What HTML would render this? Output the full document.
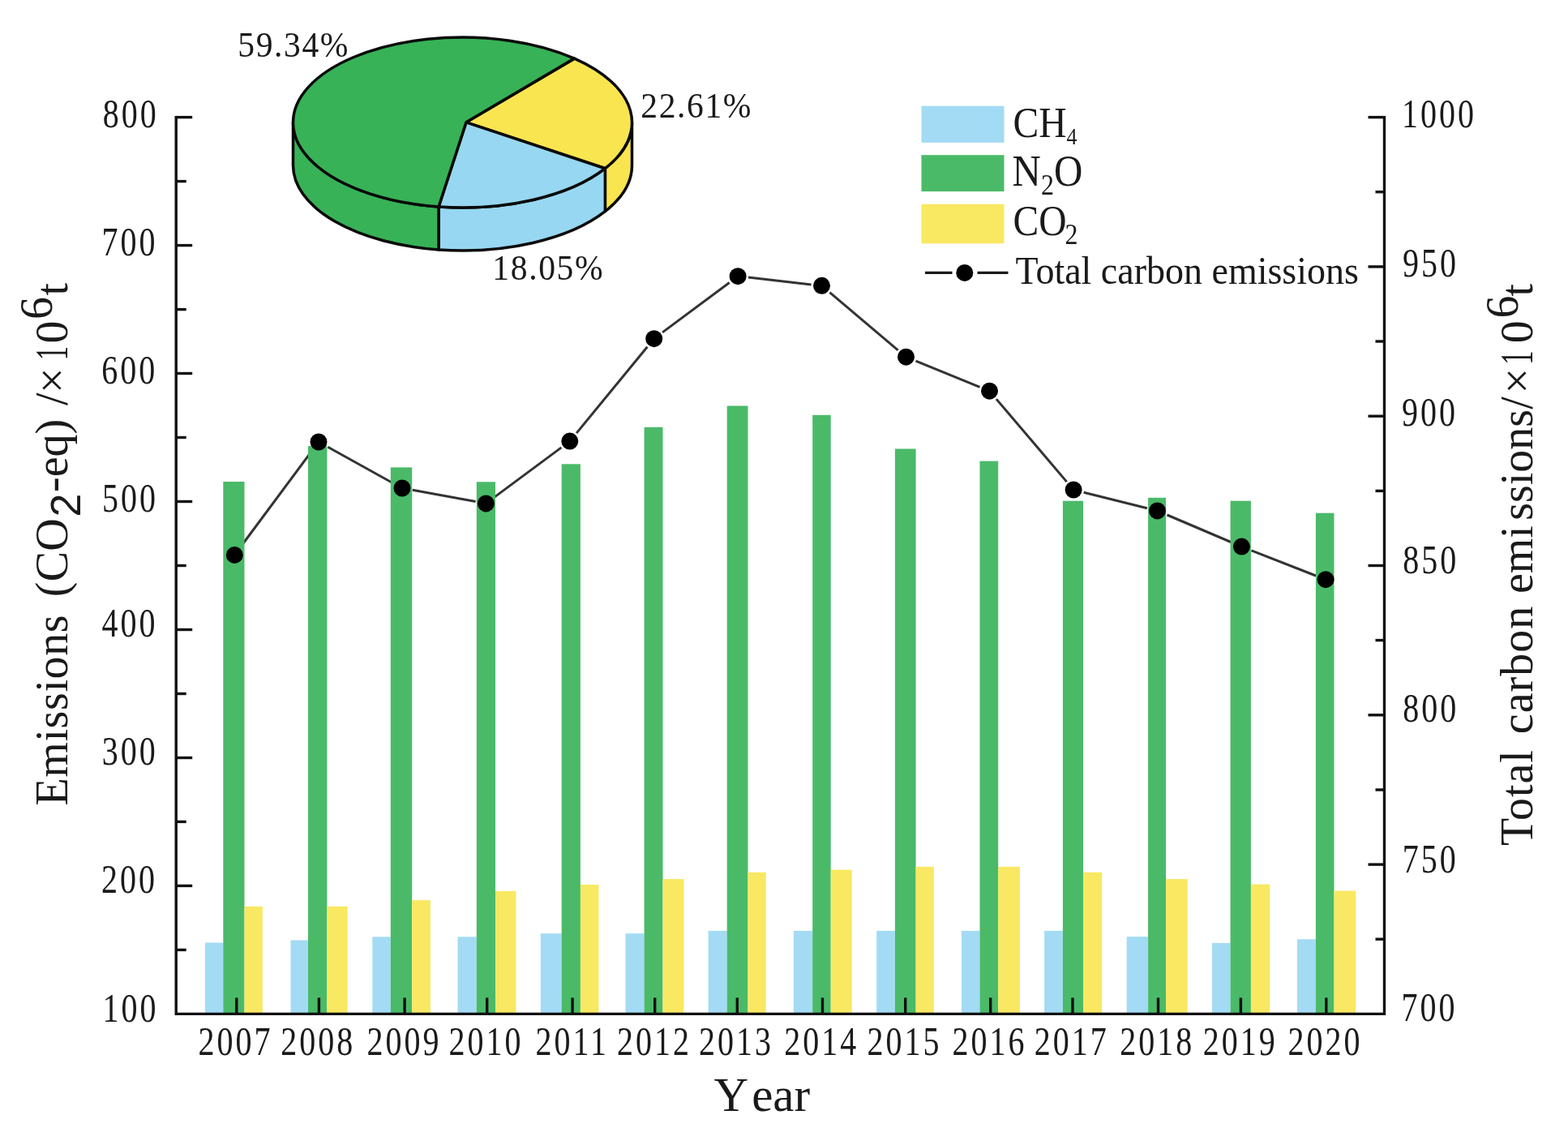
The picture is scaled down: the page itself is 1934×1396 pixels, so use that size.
<!DOCTYPE html><html><head><meta charset="utf-8"><title>Emissions chart</title><style>html,body{margin:0;padding:0;background:#fff;}svg{display:block;}</style></head><body>
<svg width="1934" height="1396" viewBox="0 0 1934 1396">
<rect width="1934" height="1396" fill="#fff"/>
<line x1="297.1" y1="674.0" x2="385.2" y2="555.4" stroke="#333333" stroke-width="3"/>
<line x1="404.4" y1="551.3" x2="484.6" y2="595.7" stroke="#333333" stroke-width="3"/>
<line x1="508.8" y1="604.3" x2="586.6" y2="618.6" stroke="#333333" stroke-width="3"/>
<line x1="609.8" y1="613.1" x2="692.4" y2="551.9" stroke="#333333" stroke-width="3"/>
<line x1="711.1" y1="534.1" x2="798.4" y2="427.7" stroke="#333333" stroke-width="3"/>
<line x1="817.1" y1="409.9" x2="899.7" y2="348.5" stroke="#333333" stroke-width="3"/>
<line x1="923.0" y1="342.1" x2="1000.6" y2="350.9" stroke="#333333" stroke-width="3"/>
<line x1="1023.4" y1="360.7" x2="1107.6" y2="431.8" stroke="#333333" stroke-width="3"/>
<line x1="1129.5" y1="445.1" x2="1208.5" y2="477.3" stroke="#333333" stroke-width="3"/>
<line x1="1228.9" y1="492.1" x2="1315.7" y2="594.1" stroke="#333333" stroke-width="3"/>
<line x1="1336.7" y1="607.2" x2="1414.9" y2="626.7" stroke="#333333" stroke-width="3"/>
<line x1="1439.5" y1="635.0" x2="1519.4" y2="669.0" stroke="#333333" stroke-width="3"/>
<line x1="1543.5" y1="678.8" x2="1623.0" y2="710.0" stroke="#333333" stroke-width="3"/>
<rect x="253" y="1162.5" width="22.3" height="87.9" fill="#A3DBF4"/>
<rect x="275.3" y="594" width="26.2" height="656.4" fill="#4ABA68"/>
<rect x="301.5" y="1117.8" width="22.3" height="132.6" fill="#F9E862"/>
<rect x="358.5" y="1159.5" width="21.5" height="90.9" fill="#A3DBF4"/>
<rect x="380" y="550" width="23.4" height="700.4" fill="#4ABA68"/>
<rect x="403.4" y="1117.8" width="25.2" height="132.6" fill="#F9E862"/>
<rect x="459.3" y="1155.3" width="22.5" height="95.1" fill="#A3DBF4"/>
<rect x="481.8" y="576.4" width="26.4" height="674.0" fill="#4ABA68"/>
<rect x="508.2" y="1110.2" width="22.7" height="140.2" fill="#F9E862"/>
<rect x="564.5" y="1155.3" width="23.3" height="95.1" fill="#A3DBF4"/>
<rect x="587.8" y="594.3" width="23.2" height="656.1" fill="#4ABA68"/>
<rect x="611" y="1098.9" width="25.4" height="151.5" fill="#F9E862"/>
<rect x="666.8" y="1151.2" width="25.9" height="99.2" fill="#A3DBF4"/>
<rect x="692.7" y="572.3" width="23.2" height="678.1" fill="#4ABA68"/>
<rect x="715.9" y="1091" width="22.5" height="159.4" fill="#F9E862"/>
<rect x="771.5" y="1151.2" width="23.1" height="99.2" fill="#A3DBF4"/>
<rect x="794.6" y="526.8" width="22.9" height="723.6" fill="#4ABA68"/>
<rect x="817.5" y="1084.1" width="25.9" height="166.3" fill="#F9E862"/>
<rect x="873.6" y="1147.9" width="23.1" height="102.5" fill="#A3DBF4"/>
<rect x="896.7" y="500.5" width="25.8" height="749.9" fill="#4ABA68"/>
<rect x="922.5" y="1075.8" width="22.2" height="174.6" fill="#F9E862"/>
<rect x="978.9" y="1147.9" width="23.3" height="102.5" fill="#A3DBF4"/>
<rect x="1002.2" y="511.8" width="22.5" height="738.6" fill="#4ABA68"/>
<rect x="1024.7" y="1072.6" width="26.0" height="177.8" fill="#F9E862"/>
<rect x="1081.2" y="1147.9" width="22.7" height="102.5" fill="#A3DBF4"/>
<rect x="1103.9" y="553.5" width="25.7" height="696.9" fill="#4ABA68"/>
<rect x="1129.6" y="1068.9" width="22.3" height="181.5" fill="#F9E862"/>
<rect x="1186" y="1147.9" width="22.5" height="102.5" fill="#A3DBF4"/>
<rect x="1208.5" y="568.6" width="22.7" height="681.8" fill="#4ABA68"/>
<rect x="1231.2" y="1068.9" width="26.7" height="181.5" fill="#F9E862"/>
<rect x="1288.1" y="1147.9" width="22.8" height="102.5" fill="#A3DBF4"/>
<rect x="1310.9" y="617.7" width="25.1" height="632.7" fill="#4ABA68"/>
<rect x="1336" y="1075.8" width="23.2" height="174.6" fill="#F9E862"/>
<rect x="1389.7" y="1155.1" width="26.4" height="95.3" fill="#A3DBF4"/>
<rect x="1416.1" y="613.8" width="21.9" height="636.6" fill="#4ABA68"/>
<rect x="1438" y="1084.1" width="26.7" height="166.3" fill="#F9E862"/>
<rect x="1495" y="1162.9" width="22.6" height="87.5" fill="#A3DBF4"/>
<rect x="1517.6" y="617.7" width="25.3" height="632.7" fill="#4ABA68"/>
<rect x="1542.9" y="1090.6" width="23.3" height="159.8" fill="#F9E862"/>
<rect x="1600" y="1158.3" width="22.9" height="92.1" fill="#A3DBF4"/>
<rect x="1622.9" y="632.7" width="22.6" height="617.7" fill="#4ABA68"/>
<rect x="1645.5" y="1098.6" width="26.7" height="151.8" fill="#F9E862"/>
<g stroke="#111" stroke-width="3.4" fill="none">
<path d="M217.2 142.9V1250.4H1707.5V142.9"/>
<path d="M217.2 1171.4h12.5"/>
<path d="M217.2 1092.4h20"/>
<path d="M217.2 1013.4h12.5"/>
<path d="M217.2 934.5h20"/>
<path d="M217.2 855.5h12.5"/>
<path d="M217.2 776.5h20"/>
<path d="M217.2 697.5h12.5"/>
<path d="M217.2 618.5h20"/>
<path d="M217.2 539.5h12.5"/>
<path d="M217.2 460.5h20"/>
<path d="M217.2 381.6h12.5"/>
<path d="M217.2 302.6h20"/>
<path d="M217.2 223.6h12.5"/>
<path d="M217.2 144.6h20"/>
<path d="M1707.5 1158.2h-11"/>
<path d="M1707.5 1066.1h-20"/>
<path d="M1707.5 974.0h-11"/>
<path d="M1707.5 881.8h-20"/>
<path d="M1707.5 789.6h-11"/>
<path d="M1707.5 697.5h-20"/>
<path d="M1707.5 605.4h-11"/>
<path d="M1707.5 513.2h-20"/>
<path d="M1707.5 421.0h-11"/>
<path d="M1707.5 328.9h-20"/>
<path d="M1707.5 236.7h-11"/>
<path d="M1707.5 144.6h-20"/>
<path d="M291.8 1250.4v-20"/>
<path d="M393.4 1250.4v-20"/>
<path d="M499.1 1250.4v-20"/>
<path d="M600.7 1250.4v-20"/>
<path d="M706.1 1250.4v-20"/>
<path d="M807.7 1250.4v-20"/>
<path d="M909.3 1250.4v-20"/>
<path d="M1014.5 1250.4v-20"/>
<path d="M1116.7 1250.4v-20"/>
<path d="M1221.7 1250.4v-20"/>
<path d="M1323 1250.4v-20"/>
<path d="M1428.5 1250.4v-20"/>
<path d="M1530.4 1250.4v-20"/>
<path d="M1635.8 1250.4v-20"/>
</g>
<circle cx="289.3" cy="684.4" r="10.5" fill="#000"/>
<circle cx="393" cy="545" r="10.5" fill="#000"/>
<circle cx="496" cy="602" r="10.5" fill="#000"/>
<circle cx="599.4" cy="620.9" r="10.5" fill="#000"/>
<circle cx="702.8" cy="544.1" r="10.5" fill="#000"/>
<circle cx="806.7" cy="417.7" r="10.5" fill="#000"/>
<circle cx="910.1" cy="340.7" r="10.5" fill="#000"/>
<circle cx="1013.5" cy="352.3" r="10.5" fill="#000"/>
<circle cx="1117.5" cy="440.2" r="10.5" fill="#000"/>
<circle cx="1220.5" cy="482.2" r="10.5" fill="#000"/>
<circle cx="1324.1" cy="604" r="10.5" fill="#000"/>
<circle cx="1427.5" cy="629.9" r="10.5" fill="#000"/>
<circle cx="1531.4" cy="674.1" r="10.5" fill="#000"/>
<circle cx="1635.1" cy="714.7" r="10.5" fill="#000"/>
<g font-family='"Liberation Serif", "Times New Roman", serif' fill="#1a1a1a">
<text transform="translate(126.65,157.20) scale(0.87,1.1)" font-size="46" letter-spacing="3.44">800</text>
<text transform="translate(125.60,314.55) scale(0.87,1.1)" font-size="46" letter-spacing="3.44">700</text>
<text transform="translate(125.15,472.55) scale(0.87,1.1)" font-size="46" letter-spacing="3.44">600</text>
<text transform="translate(126.05,631.20) scale(0.87,1.1)" font-size="46" letter-spacing="3.44">500</text>
<text transform="translate(125.45,784.75) scale(0.87,1.1)" font-size="46" letter-spacing="3.44">400</text>
<text transform="translate(125.75,943.15) scale(0.87,1.1)" font-size="46" letter-spacing="3.44">300</text>
<text transform="translate(124.95,1101.20) scale(0.87,1.1)" font-size="46" letter-spacing="3.44">200</text>
<text transform="translate(126.40,1259.55) scale(0.87,1.1)" font-size="46" letter-spacing="3.44">100</text>
<text transform="translate(1729.10,156.90) scale(0.87,1.1)" font-size="46" letter-spacing="3.44">1000</text>
<text transform="translate(1729.90,341.00) scale(0.87,1.1)" font-size="46" letter-spacing="3.44">950</text>
<text transform="translate(1728.90,525.10) scale(0.87,1.1)" font-size="46" letter-spacing="3.44">900</text>
<text transform="translate(1730.35,706.50) scale(0.87,1.1)" font-size="46" letter-spacing="3.44">850</text>
<text transform="translate(1730.30,890.20) scale(0.87,1.1)" font-size="46" letter-spacing="3.44">800</text>
<text transform="translate(1729.80,1075.60) scale(0.87,1.1)" font-size="46" letter-spacing="3.44">750</text>
<text transform="translate(1728.50,1259.30) scale(0.87,1.1)" font-size="46" letter-spacing="3.44">700</text>
<text transform="translate(244.60,1300.80) scale(0.87,1.1)" font-size="46" letter-spacing="3.44">2007</text>
<text transform="translate(346.20,1300.80) scale(0.87,1.1)" font-size="46" letter-spacing="3.44">2008</text>
<text transform="translate(452.40,1300.80) scale(0.87,1.1)" font-size="46" letter-spacing="3.44">2009</text>
<text transform="translate(553.50,1300.80) scale(0.87,1.1)" font-size="46" letter-spacing="3.44">2010</text>
<text transform="translate(660.40,1300.80) scale(0.87,1.1)" font-size="46" letter-spacing="3.44">2011</text>
<text transform="translate(761.00,1300.80) scale(0.87,1.1)" font-size="46" letter-spacing="3.44">2012</text>
<text transform="translate(862.10,1300.80) scale(0.87,1.1)" font-size="46" letter-spacing="3.44">2013</text>
<text transform="translate(967.30,1300.80) scale(0.87,1.1)" font-size="46" letter-spacing="3.44">2014</text>
<text transform="translate(1069.50,1300.80) scale(0.87,1.1)" font-size="46" letter-spacing="3.44">2015</text>
<text transform="translate(1174.50,1300.80) scale(0.87,1.1)" font-size="46" letter-spacing="3.44">2016</text>
<text transform="translate(1275.80,1300.80) scale(0.87,1.1)" font-size="46" letter-spacing="3.44">2017</text>
<text transform="translate(1381.30,1300.80) scale(0.87,1.1)" font-size="46" letter-spacing="3.44">2018</text>
<text transform="translate(1483.70,1300.80) scale(0.87,1.1)" font-size="46" letter-spacing="3.44">2019</text>
<text transform="translate(1588.60,1300.80) scale(0.87,1.1)" font-size="46" letter-spacing="3.44">2020</text>
<text transform="translate(293.25,70.20) scale(0.93,1.0)" font-size="44.7" letter-spacing="1.73">59.34%</text>
<text transform="translate(790.30,145.30) scale(0.93,1.0)" font-size="44.7" letter-spacing="1.73">22.61%</text>
<text transform="translate(607.35,345.25) scale(0.93,1.0)" font-size="44.7" letter-spacing="1.73">18.05%</text>
<text transform="translate(1249.5,169) scale(1,1.12)" font-size="47.5">CH<tspan font-size="26" dy="8.0">4</tspan></text>
<text transform="translate(1248.5,229) scale(1,1.12)" font-size="49">N<tspan font-size="32" dy="9.8">2</tspan><tspan dy="-9.8">O</tspan></text>
<text transform="translate(1249.5,290) scale(1,1.12)" font-size="47.5">CO<tspan font-size="32" x="64" dy="9.4">2</tspan></text>
<text transform="translate(1252.5,349.5) scale(1,1.06)" font-size="46">Total carbon emissions</text>
<text font-size="59" style="font-kerning:none"><tspan x="880.5" y="1369.6">Y</tspan><tspan x="927.2" y="1369.6">ear</tspan></text>
<g transform="rotate(-90)">
<text font-size="56"><tspan x="-993.5" y="83.4" letter-spacing="0.6">Emissions</tspan><tspan x="-736.2" y="83.4" >(</tspan><tspan x="-717.2" y="83.4" >CO</tspan><tspan x="-637.4" y="98.8" font-family='"Liberation Sans", Arial, sans-serif' font-size="52">2</tspan><tspan x="-606.9" y="83.4" >-eq)</tspan><tspan x="-500.0" y="83.4" >/</tspan><tspan x="-484.9" y="83.4" >×</tspan><tspan x="-423.5" y="83.4" >0</tspan><tspan x="-394.0" y="64.0" >6</tspan><tspan x="-364.5" y="83.4" >t</tspan></text>
<text font-size="56"><tspan x="-1043.1" y="1889.5" letter-spacing="0.9">Total</tspan><tspan x="-905.2" y="1889.5" letter-spacing="1">carbon</tspan><tspan x="-732.1" y="1889.5" >emi</tspan><tspan x="-641.8" y="1889.5" >ssions/</tspan><tspan x="-485.5" y="1889.5" >×</tspan><tspan x="-423.3" y="1889.5" >0</tspan><tspan x="-392.6" y="1871.5" >6</tspan><tspan x="-365.4" y="1889.5" >t</tspan></text>
<text transform="translate(-444.28,83.4) scale(0.62,1)" font-size="56">1</text>
<text transform="translate(-449.78,1889.5) scale(0.62,1)" font-size="56">1</text>
</g>
</g>
<rect x="1136.5" y="130.7" width="102" height="45.2" fill="#A3DBF4"/>
<rect x="1136.5" y="191.2" width="102" height="44.9" fill="#4ABA68"/>
<rect x="1136.5" y="251.8" width="102" height="48.5" fill="#F9E862"/>
<path d="M1141 336.4H1174.5M1205.5 336.4H1243.5" stroke="#1a1a1a" stroke-width="3.2"/>
<circle cx="1189.8" cy="336.4" r="10.5" fill="#000"/>
<g stroke="#0a0a0a" stroke-width="3.5" stroke-linejoin="round">
<path d="M779.50 151.00 A209 105 0 0 1 746.38 207.73 L746.38 260.73 A209 105 0 0 0 779.50 204.00 Z" fill="#F9E54F"/>
<path d="M746.38 207.73 A209 105 0 0 1 541.05 254.95 L541.05 307.95 A209 105 0 0 0 746.38 260.73 Z" fill="#97D7F1"/>
<path d="M541.05 254.95 A209 105 0 0 1 361.50 151.00 L361.50 204.00 A209 105 0 0 0 541.05 307.95 Z" fill="#37B257"/>
<path d="M575 150.8 L708.44 72.12 A209 105 0 0 1 746.38 207.73 Z" fill="#F9E54F"/>
<path d="M575 150.8 L746.38 207.73 A209 105 0 0 1 541.05 254.95 Z" fill="#97D7F1"/>
<path d="M575 150.8 L541.05 254.95 A209 105 0 1 1 708.44 72.12 Z" fill="#37B257"/>
</g>
</svg></body></html>
